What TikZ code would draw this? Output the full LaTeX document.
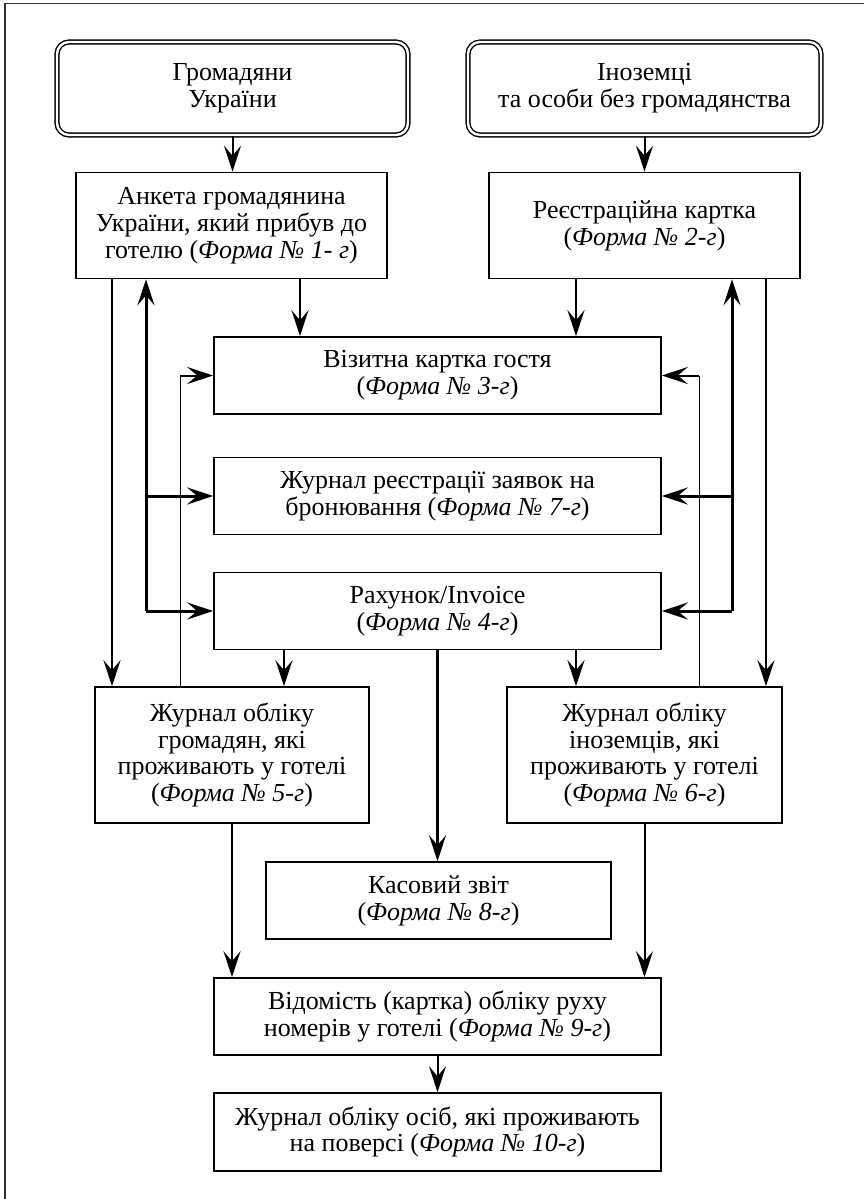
\documentclass[tikz,border=0pt]{standalone}
\usepackage{fontspec}
\setmainfont{Liberation Serif}
\usetikzlibrary{arrows.meta}

\begin{document}
\begin{tikzpicture}[
    x=0.5pt, y=-0.5pt,
    box/.style={draw=black, line width=0.8pt, minimum width=223.5pt, minimum height=38.5pt,
        inner sep=2pt, align=center, font=\fontsize{13}{13.4}\selectfont},
    who/.style={box, rounded corners=6pt, double, double distance=1.2pt, line width=0.7pt,
        minimum width=175.5pt, minimum height=46.5pt},
    arr/.style={-{Stealth[length=13pt, width=8.5pt, inset=5pt]}, line width=1pt},
    busarr/.style={arr, line width=1.5pt},
    thinln/.style={line width=0.5pt}
]
\useasboundingbox (0,0) rectangle (864,1199);
% Frame (left and top edges only)
\draw[line width=0.9pt, black!80] (5,1199) -- (5,3.5) -- (864,3.5);

% Guests
\node[who] (cit) at (232.5, 88.5) {Громадяни\\України};
\node[who, minimum width=176.5pt] (for) at (644.5, 88.5) {Іноземці\\та особи без громадянства};

% Registration forms
\node[box, minimum width=155.5pt, minimum height=53pt] (ank) at (231.5, 225.5)
    {Анкета громадянина\\України, який прибув до\\готелю (\textit{Форма № 1- г})};
\node[box, minimum width=155.5pt, minimum height=53pt] (reg) at (644.5, 225.5)
    {Реєстраційна картка\\(\textit{Форма № 2-г})};

% Middle column
\node[box] (viz) at (437.5, 375.5) {Візитна картка гостя\\(\textit{Форма № 3-г})};
\node[box] (jr7) at (437.5, 496) {Журнал реєстрації заявок на\\бронювання (\textit{Форма № 7-г})};
\node[box] (rah) at (437.5, 611) {Рахунок/Invoice\\(\textit{Форма № 4-г})};

% Journals
\node[box, minimum width=137pt, minimum height=68pt] (jr5) at (232, 755)
    {Журнал обліку\\громадян, які\\проживають у готелі\\(\textit{Форма № 5-г})};
\node[box, minimum width=137.5pt, minimum height=68pt] (jr6) at (644.5, 755)
    {Журнал обліку\\іноземців, які\\проживають у готелі\\(\textit{Форма № 6-г})};
\node[box, minimum width=172.5pt] (kas) at (438.5, 900.5) {Касовий звіт\\(\textit{Форма № 8-г})};
\node[box] (vid) at (437.5, 1016.5) {Відомість (картка) обліку руху\\номерів у готелі (\textit{Форма № 9-г})};
\node[box, minimum height=39pt] (jr10) at (437.5, 1132)
    {Журнал обліку осіб, які проживають\\на поверсі (\textit{Форма № 10-г})};

% Lanes
\coordinate (lOut) at (112,0);
\coordinate (lBus) at (146,0);
\coordinate (lThin) at (180,0);
\coordinate (lRah) at (284,0);
\coordinate (lIn) at (300,0);
\coordinate (rIn) at (576,0);
\coordinate (rThin) at (699,0);
\coordinate (rBus) at (732,0);
\coordinate (rOut) at (766,0);

% Top arrows
\draw[arr] (cit.south) -- (cit.south |- ank.north);
\draw[arr] (for.south) -- (for.south |- reg.north);
\draw[arr] (lIn |- ank.south) -- (lIn |- viz.north);
\draw[arr] (rIn |- reg.south) -- (rIn |- viz.north);
\draw[arr] (lOut |- ank.south) -- (lOut |- jr5.north);
\draw[arr] (rOut |- reg.south) -- (rOut |- jr6.north);

% Buses
\draw[busarr] (lBus |- rah.west) -- (lBus |- ank.south);
\draw[busarr] (lBus |- rah.west) -- (rah.west);
\draw[busarr] (lBus |- jr7.west) -- (jr7.west);
\draw[busarr] (rBus |- rah.east) -- (rBus |- reg.south);
\draw[busarr] (rBus |- rah.east) -- (rah.east);
\draw[busarr] (rBus |- jr7.east) -- (jr7.east);

% Back to the guest card
\draw[thinln] (lThin |- jr5.north) -- (lThin |- viz.west);
\draw[arr] (lThin |- viz.west) -- (viz.west);
\draw[thinln] (rThin |- jr6.north) -- (rThin |- viz.east);
\draw[arr] (rThin |- viz.east) -- (viz.east);

% Bottom part
\draw[arr] (lRah |- rah.south) -- (lRah |- jr5.north);
\draw[arr] (rIn |- rah.south) -- (rIn |- jr6.north);
\draw[busarr] (rah.south) -- (rah.south |- kas.north);
\draw[arr] (jr5.south) -- (jr5.south |- vid.north);
\draw[arr] (jr6.south) -- (jr6.south |- vid.north);
\draw[arr] (vid) -- (jr10);
\end{tikzpicture}
\end{document}
